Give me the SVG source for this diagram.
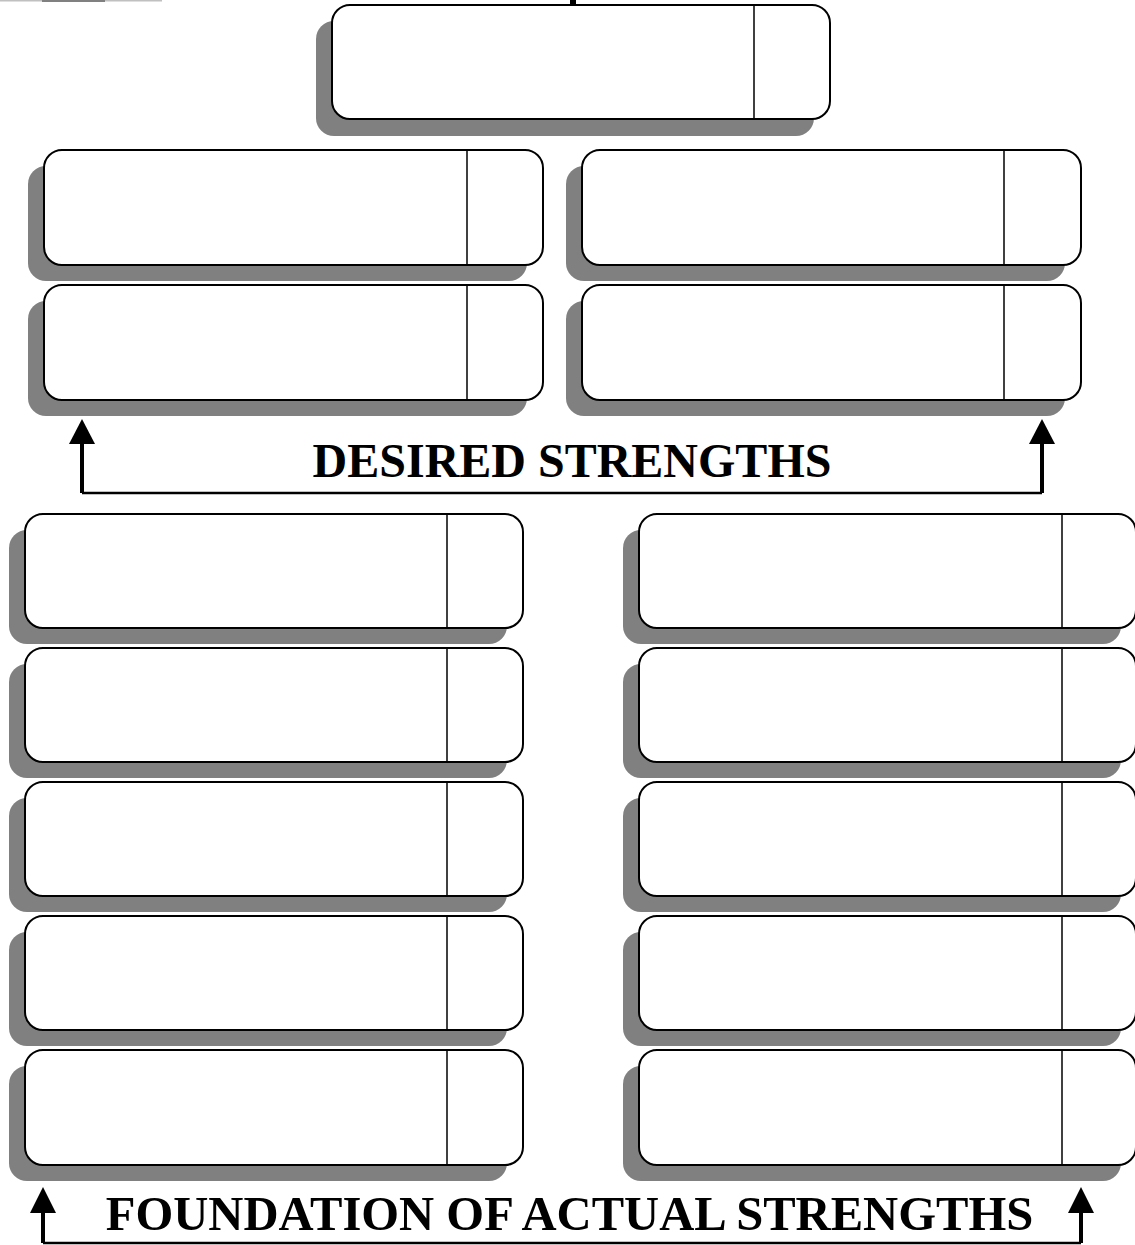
<svg xmlns="http://www.w3.org/2000/svg" width="1135" height="1245" viewBox="0 0 1135 1245">
<style>
.sh{fill:#808080;stroke:none}
.bx{fill:#fff;stroke:#000;stroke-width:2}
.dv{stroke:#000;stroke-width:1.5}
.ln{fill:none;stroke:#000;stroke-width:2.5}
.sf{fill:none;stroke:#000;stroke-width:4}
.ah{fill:#000}
.lbl{font-family:"Liberation Serif","Times New Roman",serif;font-weight:bold;font-size:48px;fill:#000}
</style>
<rect x="0" y="0" width="162" height="1.5" fill="#c0c0c0"/>
<rect x="42" y="0" width="63" height="2" fill="#808080"/>
<g id="connectors">
<rect x="570" y="0" width="6" height="5" fill="#000"/>
<path class="sf" d="M82,444 V493"/>
<path class="sf" d="M1042,444 V493"/>
<path class="ln" d="M82,493 H1042"/>
<polygon class="ah" points="82,419 69,444 95,444"/>
<polygon class="ah" points="1042,419 1029,444 1055,444"/>
<path class="sf" d="M43,1212 V1243"/>
<path class="sf" d="M1081,1212 V1243"/>
<path class="ln" d="M43,1243 H1081"/>
<polygon class="ah" points="43,1187 30,1213 56,1213"/>
<polygon class="ah" points="1081,1187 1068,1213 1094,1213"/>
</g>
<g id="n-top"><rect class="sh" x="316" y="21" width="498" height="115" rx="18"/><rect class="bx" x="332" y="5" width="498" height="114" rx="18"/><line class="dv" x1="754" y1="5" x2="754" y2="119"/></g>
<g id="n-d1"><rect class="sh" x="28" y="166" width="499" height="115" rx="18"/><rect class="bx" x="44" y="150" width="499" height="115" rx="18"/><line class="dv" x1="467" y1="150" x2="467" y2="265"/></g>
<g id="n-d2"><rect class="sh" x="566" y="166" width="499" height="115" rx="18"/><rect class="bx" x="582" y="150" width="499" height="115" rx="18"/><line class="dv" x1="1004" y1="150" x2="1004" y2="265"/></g>
<g id="n-d3"><rect class="sh" x="28" y="301" width="499" height="115" rx="18"/><rect class="bx" x="44" y="285" width="499" height="115" rx="18"/><line class="dv" x1="467" y1="285" x2="467" y2="400"/></g>
<g id="n-d4"><rect class="sh" x="566" y="301" width="499" height="115" rx="18"/><rect class="bx" x="582" y="285" width="499" height="115" rx="18"/><line class="dv" x1="1004" y1="285" x2="1004" y2="400"/></g>
<text class="lbl" x="572" y="477" text-anchor="middle">DESIRED STRENGTHS</text>
<g id="n-l1"><rect class="sh" x="9" y="530" width="498" height="114" rx="18"/><rect class="bx" x="25" y="514" width="498" height="114" rx="18"/><line class="dv" x1="447" y1="514" x2="447" y2="628"/></g>
<g id="n-l2"><rect class="sh" x="9" y="664" width="498" height="114" rx="18"/><rect class="bx" x="25" y="648" width="498" height="114" rx="18"/><line class="dv" x1="447" y1="648" x2="447" y2="762"/></g>
<g id="n-l3"><rect class="sh" x="9" y="798" width="498" height="114" rx="18"/><rect class="bx" x="25" y="782" width="498" height="114" rx="18"/><line class="dv" x1="447" y1="782" x2="447" y2="896"/></g>
<g id="n-l4"><rect class="sh" x="9" y="932" width="498" height="114" rx="18"/><rect class="bx" x="25" y="916" width="498" height="114" rx="18"/><line class="dv" x1="447" y1="916" x2="447" y2="1030"/></g>
<g id="n-l5"><rect class="sh" x="9" y="1066" width="498" height="115" rx="18"/><rect class="bx" x="25" y="1050" width="498" height="115" rx="18"/><line class="dv" x1="447" y1="1050" x2="447" y2="1165"/></g>
<g id="n-r1"><rect class="sh" x="623" y="530" width="498" height="114" rx="18"/><rect class="bx" x="639" y="514" width="497" height="114" rx="18"/><line class="dv" x1="1062" y1="514" x2="1062" y2="628"/></g>
<g id="n-r2"><rect class="sh" x="623" y="664" width="498" height="114" rx="18"/><rect class="bx" x="639" y="648" width="497" height="114" rx="18"/><line class="dv" x1="1062" y1="648" x2="1062" y2="762"/></g>
<g id="n-r3"><rect class="sh" x="623" y="798" width="498" height="114" rx="18"/><rect class="bx" x="639" y="782" width="497" height="114" rx="18"/><line class="dv" x1="1062" y1="782" x2="1062" y2="896"/></g>
<g id="n-r4"><rect class="sh" x="623" y="932" width="498" height="114" rx="18"/><rect class="bx" x="639" y="916" width="497" height="114" rx="18"/><line class="dv" x1="1062" y1="916" x2="1062" y2="1030"/></g>
<g id="n-r5"><rect class="sh" x="623" y="1066" width="498" height="115" rx="18"/><rect class="bx" x="639" y="1050" width="497" height="115" rx="18"/><line class="dv" x1="1062" y1="1050" x2="1062" y2="1165"/></g>
<text class="lbl" x="569.5" y="1230" text-anchor="middle" style="font-size:48.6px">FOUNDATION OF ACTUAL STRENGTHS</text>
</svg>
